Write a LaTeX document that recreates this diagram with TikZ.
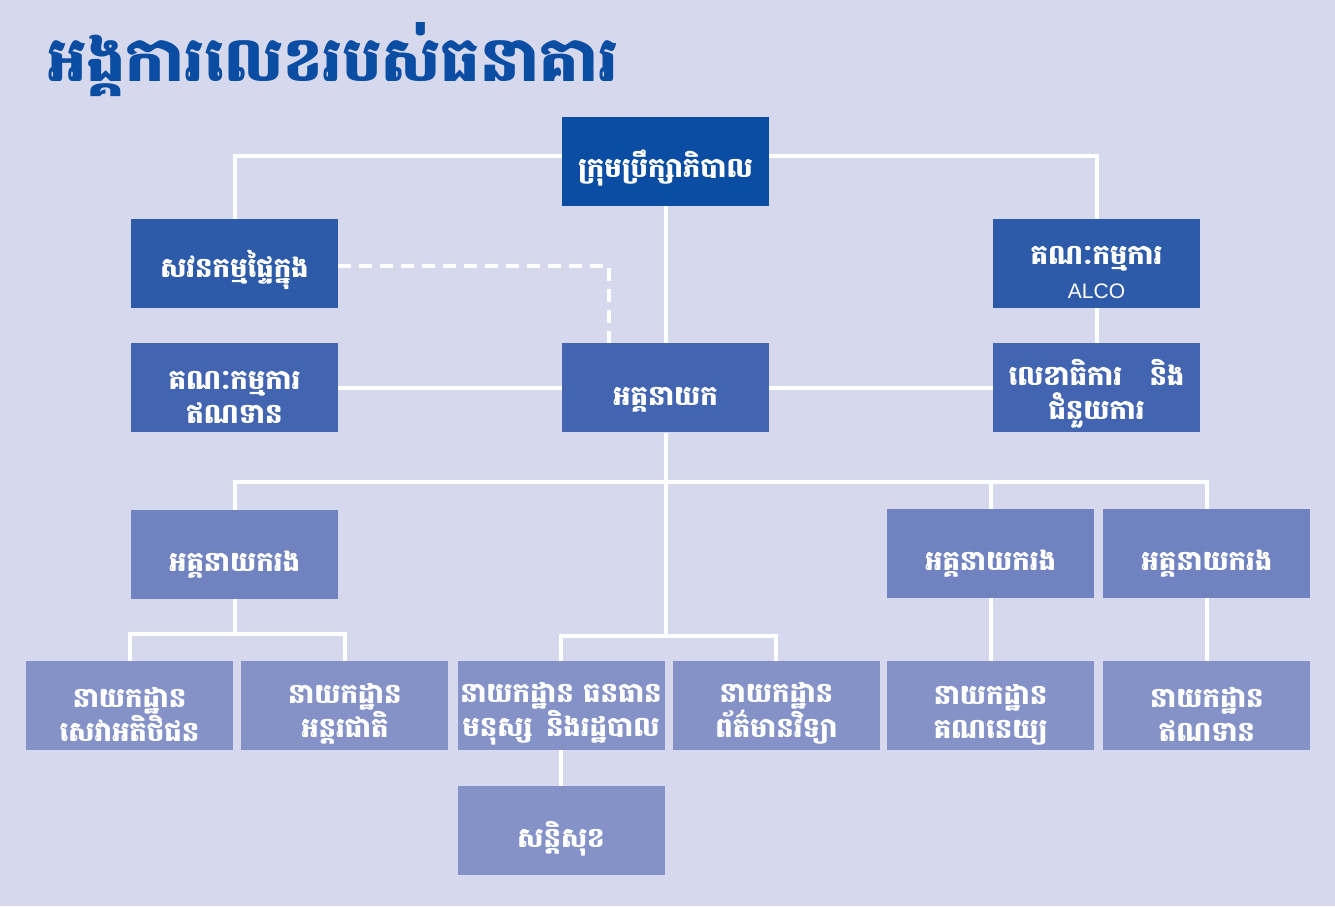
\documentclass[tikz,border=0pt]{standalone}
\usepackage{fontspec}
\usepackage{tikz}
\usetikzlibrary{positioning}
\newfontfamily\khmerfont[Script=Khmer]{Battambang}
\setsansfont{Liberation Sans}
\definecolor{bgcol}{HTML}{D6D9EE}
\definecolor{titlecol}{HTML}{0A4DA3}
\definecolor{boardcol}{HTML}{0A4DA3}
\definecolor{auditcol}{HTML}{2D5AA9}
\definecolor{mgmtcol}{HTML}{4365B1}
\definecolor{deputycol}{HTML}{7083C0}
\definecolor{deptcol}{HTML}{8592C8}

\begin{document}
\begin{tikzpicture}[x=1pt,y=-1pt,
  font=\khmerfont\bfseries\fontsize{27.5}{34}\selectfont,
  box/.style={text=white,align=center,inner sep=2pt,minimum width=207pt,minimum height=89pt},
  oneline/.style={text height=41pt},
  twoline/.style={text height=71pt},
  boardbox/.style={box,fill=boardcol},
  auditbox/.style={box,fill=auditcol},
  mgmtbox/.style={box,fill=mgmtcol},
  deputybox/.style={box,fill=deputycol,oneline},
  deptbox/.style={box,fill=deptcol,twoline},
  link/.style={draw=white,line width=4pt},
  dashlink/.style={link,dash pattern=on 13pt off 8pt}]
\fill[bgcol] (0,0) rectangle (1335,906);
\node[anchor=base west,inner sep=0pt,text=titlecol,font=\khmerfont\bfseries\fontsize{62}{70}\selectfont] (title) at (47,81) {អង្គការលេខរបស់ធនាគារ};
\node[boardbox,oneline] (board) at (665.5,161.5) {ក្រុមប្រឹក្សាភិបាល};
\node[auditbox,oneline] (audit) at (234.5,263.5) {សវនកម្មផ្ទៃក្នុង};
\node[auditbox,twoline] (alco) at (1096.5,263.5) {គណៈកម្មការ\\{\sffamily\mdseries\fontsize{21}{34}\selectfont ALCO}};
\node[mgmtbox,twoline,below=35pt of audit] (credit) {គណៈកម្មការ\\ឥណទាន};
\node[mgmtbox,oneline] (ceo) at (credit -| board) {អគ្គនាយក};
\node[mgmtbox,twoline,below=35pt of alco] (secr) {លេខាធិការ\quad និង\\ជំនួយការ};
\node[deputybox,below=77pt of credit] (dep1) {អគ្គនាយករង};
\node[deputybox] (dep2) at (990.5,553.5) {អគ្គនាយករង};
\node[deputybox,right=9pt of dep2] (dep3) {អគ្គនាយករង};
\node[deptbox] (cs) at (129.5,705.5) {នាយកដ្ឋាន\\សេវាអតិថិជន};
\node[deptbox,right=8pt of cs] (intl) {នាយកដ្ឋាន\\អន្តរជាតិ};
\node[deptbox] (hr) at (561,705.5) {នាយកដ្ឋាន ធនធាន\\មនុស្ស\enspace និងរដ្ឋបាល};
\node[deptbox,right=8pt of hr] (it) {នាយកដ្ឋាន\\ព័ត៌មានវិទ្យា};
\node[deptbox,below=63pt of dep2] (acct) {នាយកដ្ឋាន\\គណនេយ្យ};
\node[deptbox,right=9pt of acct] (loan) {នាយកដ្ឋាន\\ឥណទាន};
\node[deptbox,oneline,below=36pt of hr] (sec) {សន្តិសុខ};
\coordinate[above=28pt of dep1.north] (bus);
\coordinate[above=27pt of cs.north] (leftbus);
\coordinate[above=25pt of hr.north] (midbus);
\draw[link] (audit.north) |- ([yshift=6pt]board.west);
\draw[link] ([yshift=6pt]board.east) -| (alco.north);
\draw[link] (board.south) -- (ceo.north);
\draw[link] (alco.south) -- (secr.north);
\draw[dashlink] ([yshift=-2pt]audit.east) -| ([xshift=-57pt]ceo.north);
\draw[link] (credit.east) -- (ceo.west);
\draw[link] (ceo.east) -- (secr.west);
\draw[link] (ceo.south) -- (ceo.south |- midbus);
\draw[link] (dep1.north) -- (bus) -| (dep3.north);
\draw[link] (bus -| dep2.north) -- (dep2.north);
\draw[link] (dep1.south) -- (dep1.south |- leftbus);
\draw[link] (cs.north) -- (leftbus) -| (intl.north);
\draw[link] (hr.north) -- (midbus) -| (it.north);
\draw[link] (dep2.south) -- (acct.north);
\draw[link] (dep3.south) -- (loan.north);
\draw[link] (hr.south) -- (sec.north);
\end{tikzpicture}
\end{document}
